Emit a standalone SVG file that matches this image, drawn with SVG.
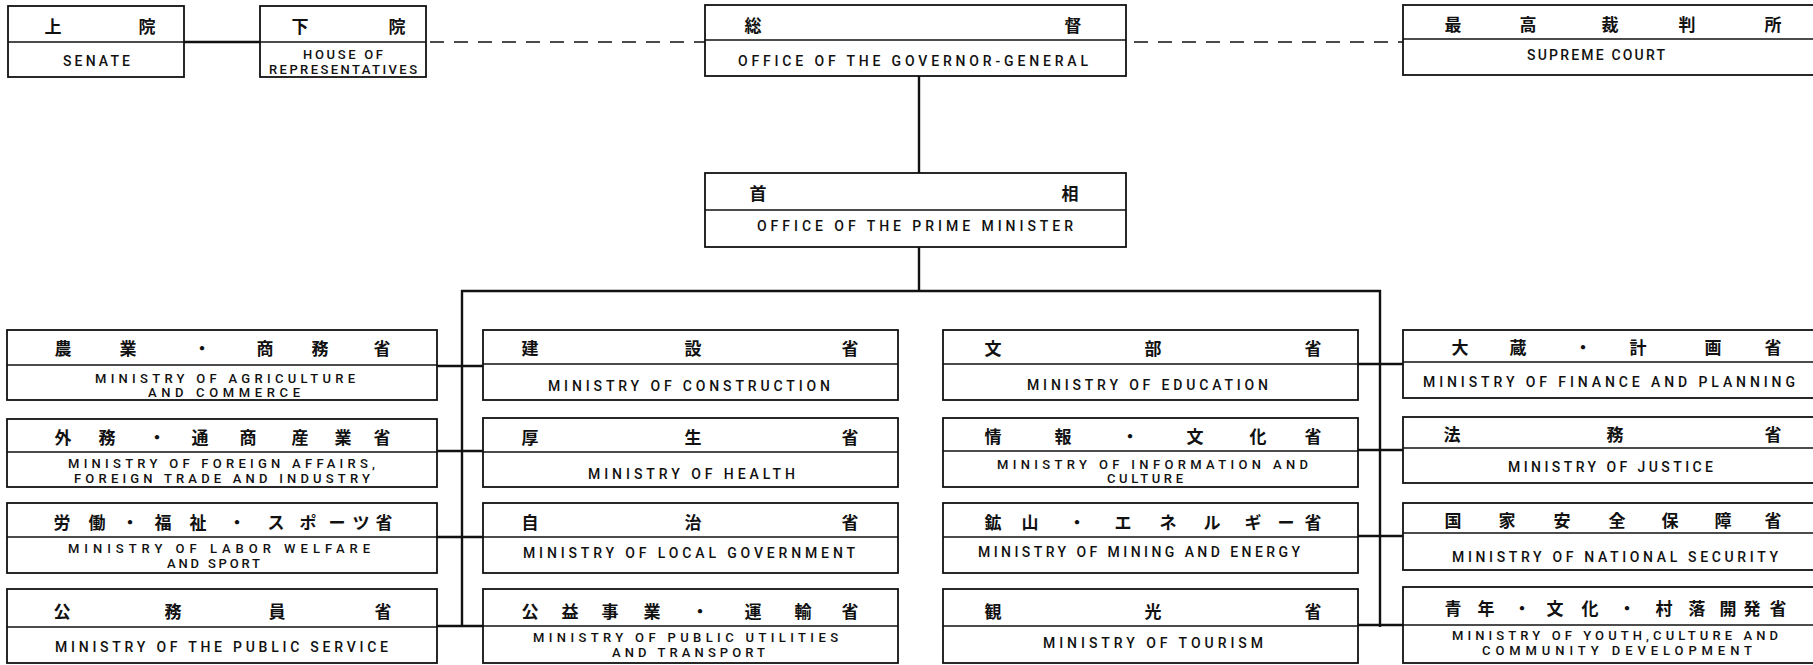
<svg xmlns="http://www.w3.org/2000/svg" width="1813" height="665" viewBox="0 0 1813 665">
<style>
.box{fill:#fff;stroke:#111;stroke-width:1.8}
.dv{stroke:#111;stroke-width:1.5}
.jp{font-family:"Noto Sans CJK JP","Noto Sans CJK SC",sans-serif;font-size:17px;font-weight:700;fill:#111;text-anchor:middle;dominant-baseline:central}
.en{font-family:Roboto,"Liberation Sans",Arial,sans-serif;font-size:14px;font-weight:500;fill:#111}
.sm{font-size:13px}
.cn{stroke:#111;stroke-width:2.4;fill:none}
.dash{stroke:#111;stroke-width:1.6;fill:none;stroke-dasharray:14 10}
</style>
<rect width="1813" height="665" fill="#fff"/>
<g id="connectors">
<line class="cn" x1="184" y1="42" x2="260" y2="42"/>
<line class="dash" x1="430" y1="42" x2="705" y2="42"/>
<line class="dash" x1="1134" y1="42" x2="1403" y2="42"/>
<line class="cn" x1="919" y1="76" x2="919" y2="173"/>
<line class="cn" x1="919" y1="247" x2="919" y2="291"/>
<line class="cn" x1="461" y1="291" x2="1381" y2="291"/>
<line class="cn" x1="462" y1="290" x2="462" y2="627"/>
<line class="cn" x1="1380" y1="290" x2="1380" y2="627"/>
<line class="cn" x1="437" y1="366" x2="483" y2="366"/>
<line class="cn" x1="437" y1="451" x2="483" y2="451"/>
<line class="cn" x1="437" y1="537" x2="483" y2="537"/>
<line class="cn" x1="437" y1="626" x2="483" y2="626"/>
<line class="cn" x1="1358" y1="364" x2="1403" y2="364"/>
<line class="cn" x1="1358" y1="450" x2="1403" y2="450"/>
<line class="cn" x1="1358" y1="536" x2="1403" y2="536"/>
<line class="cn" x1="1358" y1="625" x2="1403" y2="625"/>
</g>
<g id="senate">
<rect class="box" x="8" y="6" width="176" height="71"/>
<line class="dv" x1="8" y1="42" x2="184" y2="42"/>
<text class="jp" x="53" y="25">上</text><text class="jp" x="147" y="25">院</text>
<text class="en" x="63" y="66" textLength="67" lengthAdjust="spacing">SENATE</text>
</g>
<g id="house">
<rect class="box" x="260" y="6" width="166" height="71"/>
<line class="dv" x1="260" y1="42" x2="426" y2="42"/>
<text class="jp" x="300" y="25">下</text><text class="jp" x="397" y="25">院</text>
<text class="en sm" x="303" y="59" textLength="80" lengthAdjust="spacing">HOUSE OF</text>
<text class="en sm" x="269" y="74" textLength="148" lengthAdjust="spacing">REPRESENTATIVES</text>
</g>
<g id="governor">
<rect class="box" x="705" y="5" width="421" height="71"/>
<line class="dv" x1="705" y1="40" x2="1126" y2="40"/>
<text class="jp" x="753" y="24">総</text><text class="jp" x="1073" y="24">督</text>
<text class="en" x="738" y="66" textLength="350" lengthAdjust="spacing">OFFICE OF THE GOVERNOR-GENERAL</text>
</g>
<g id="supreme">
<rect class="box" x="1403" y="5" width="430" height="70"/>
<line class="dv" x1="1403" y1="39" x2="1833" y2="39"/>
<text class="jp" x="1453" y="23">最</text><text class="jp" x="1528" y="23">高</text><text class="jp" x="1610" y="23">裁</text><text class="jp" x="1687" y="23">判</text><text class="jp" x="1773" y="23">所</text>
<text class="en" x="1527" y="60" textLength="138" lengthAdjust="spacing">SUPREME COURT</text>
</g>
<g id="prime">
<rect class="box" x="705" y="173" width="421" height="74"/>
<line class="dv" x1="705" y1="210" x2="1126" y2="210"/>
<text class="jp" x="758" y="192">首</text><text class="jp" x="1070" y="192">相</text>
<text class="en" x="757" y="231" textLength="316" lengthAdjust="spacing">OFFICE OF THE PRIME MINISTER</text>
</g>
<g id="agriculture">
<rect class="box" x="7" y="330" width="430" height="70"/>
<line class="dv" x1="7" y1="365" x2="437" y2="365"/>
<text class="jp" x="63" y="347">農</text><text class="jp" x="128" y="347">業</text><text class="jp" x="202" y="347">・</text><text class="jp" x="265" y="347">商</text><text class="jp" x="320" y="347">務</text><text class="jp" x="382" y="347">省</text>
<text class="en sm" x="95" y="383" textLength="260" lengthAdjust="spacing">MINISTRY OF AGRICULTURE</text>
<text class="en sm" x="148" y="397" textLength="152" lengthAdjust="spacing">AND COMMERCE</text>
</g>
<g id="foreign">
<rect class="box" x="7" y="419" width="430" height="68"/>
<line class="dv" x1="7" y1="452" x2="437" y2="452"/>
<text class="jp" x="63" y="436">外</text><text class="jp" x="107" y="436">務</text><text class="jp" x="157" y="436">・</text><text class="jp" x="200" y="436">通</text><text class="jp" x="248" y="436">商</text><text class="jp" x="300" y="436">産</text><text class="jp" x="343" y="436">業</text><text class="jp" x="382" y="436">省</text>
<text class="en sm" x="68" y="468" textLength="307" lengthAdjust="spacing">MINISTRY OF FOREIGN AFFAIRS,</text>
<text class="en sm" x="74" y="483" textLength="296" lengthAdjust="spacing">FOREIGN TRADE AND INDUSTRY</text>
</g>
<g id="labor">
<rect class="box" x="7" y="503" width="430" height="70"/>
<line class="dv" x1="7" y1="537" x2="437" y2="537"/>
<text class="jp" x="62" y="521">労</text><text class="jp" x="97" y="521">働</text><text class="jp" x="130" y="521">・</text><text class="jp" x="163" y="521">福</text><text class="jp" x="198" y="521">祉</text><text class="jp" x="237" y="521">・</text><text class="jp" x="276" y="521">ス</text><text class="jp" x="308" y="521">ポ</text><text class="jp" x="337" y="521">ー</text><text class="jp" x="361" y="521">ツ</text><text class="jp" x="384" y="521">省</text>
<text class="en sm" x="68" y="553" textLength="302" lengthAdjust="spacing">MINISTRY OF LABOR WELFARE</text>
<text class="en sm" x="167" y="568" textLength="93" lengthAdjust="spacing">AND SPORT</text>
</g>
<g id="publicservice">
<rect class="box" x="7" y="589" width="430" height="74"/>
<line class="dv" x1="7" y1="627" x2="437" y2="627"/>
<text class="jp" x="62" y="610">公</text><text class="jp" x="173" y="610">務</text><text class="jp" x="277" y="610">員</text><text class="jp" x="383" y="610">省</text>
<text class="en" x="55" y="652" textLength="333" lengthAdjust="spacing">MINISTRY OF THE PUBLIC SERVICE</text>
</g>
<g id="construction">
<rect class="box" x="483" y="330" width="415" height="70"/>
<line class="dv" x1="483" y1="364" x2="898" y2="364"/>
<text class="jp" x="530" y="347">建</text><text class="jp" x="693" y="347">設</text><text class="jp" x="850" y="347">省</text>
<text class="en" x="548" y="391" textLength="282" lengthAdjust="spacing">MINISTRY OF CONSTRUCTION</text>
</g>
<g id="health">
<rect class="box" x="483" y="418" width="415" height="69"/>
<line class="dv" x1="483" y1="452" x2="898" y2="452"/>
<text class="jp" x="530" y="436">厚</text><text class="jp" x="693" y="436">生</text><text class="jp" x="850" y="436">省</text>
<text class="en" x="588" y="479" textLength="207" lengthAdjust="spacing">MINISTRY OF HEALTH</text>
</g>
<g id="localgov">
<rect class="box" x="483" y="503" width="415" height="70"/>
<line class="dv" x1="483" y1="537" x2="898" y2="537"/>
<text class="jp" x="530" y="521">自</text><text class="jp" x="693" y="521">治</text><text class="jp" x="850" y="521">省</text>
<text class="en" x="523" y="558" textLength="332" lengthAdjust="spacing">MINISTRY OF LOCAL GOVERNMENT</text>
</g>
<g id="utilities">
<rect class="box" x="483" y="589" width="415" height="74"/>
<line class="dv" x1="483" y1="626" x2="898" y2="626"/>
<text class="jp" x="530" y="610">公</text><text class="jp" x="570" y="610">益</text><text class="jp" x="610" y="610">事</text><text class="jp" x="652" y="610">業</text><text class="jp" x="700" y="610">・</text><text class="jp" x="753" y="610">運</text><text class="jp" x="803" y="610">輸</text><text class="jp" x="850" y="610">省</text>
<text class="en sm" x="533" y="642" textLength="305" lengthAdjust="spacing">MINISTRY OF PUBLIC UTILITIES</text>
<text class="en sm" x="612" y="657" textLength="153" lengthAdjust="spacing">AND TRANSPORT</text>
</g>
<g id="education">
<rect class="box" x="943" y="330" width="415" height="70"/>
<line class="dv" x1="943" y1="364" x2="1358" y2="364"/>
<text class="jp" x="993" y="347">文</text><text class="jp" x="1153" y="347">部</text><text class="jp" x="1313" y="347">省</text>
<text class="en" x="1027" y="390" textLength="241" lengthAdjust="spacing">MINISTRY OF EDUCATION</text>
</g>
<g id="information">
<rect class="box" x="943" y="418" width="415" height="69"/>
<line class="dv" x1="943" y1="451" x2="1358" y2="451"/>
<text class="jp" x="993" y="435">情</text><text class="jp" x="1063" y="435">報</text><text class="jp" x="1130" y="435">・</text><text class="jp" x="1195" y="435">文</text><text class="jp" x="1258" y="435">化</text><text class="jp" x="1313" y="435">省</text>
<text class="en sm" x="997" y="469" textLength="311" lengthAdjust="spacing">MINISTRY OF INFORMATION AND</text>
<text class="en sm" x="1107" y="483" textLength="76" lengthAdjust="spacing">CULTURE</text>
</g>
<g id="mining">
<rect class="box" x="943" y="503" width="415" height="70"/>
<line class="dv" x1="943" y1="537" x2="1358" y2="537"/>
<text class="jp" x="993" y="521">鉱</text><text class="jp" x="1030" y="521">山</text><text class="jp" x="1077" y="521">・</text><text class="jp" x="1123" y="521">エ</text><text class="jp" x="1168" y="521">ネ</text><text class="jp" x="1212" y="521">ル</text><text class="jp" x="1253" y="521">ギ</text><text class="jp" x="1286" y="521">ー</text><text class="jp" x="1313" y="521">省</text>
<text class="en" x="978" y="557" textLength="322" lengthAdjust="spacing">MINISTRY OF MINING AND ENERGY</text>
</g>
<g id="tourism">
<rect class="box" x="943" y="589" width="415" height="74"/>
<line class="dv" x1="943" y1="626" x2="1358" y2="626"/>
<text class="jp" x="993" y="610">観</text><text class="jp" x="1153" y="610">光</text><text class="jp" x="1313" y="610">省</text>
<text class="en" x="1043" y="648" textLength="220" lengthAdjust="spacing">MINISTRY OF TOURISM</text>
</g>
<g id="finance">
<rect class="box" x="1403" y="330" width="430" height="68"/>
<line class="dv" x1="1403" y1="362" x2="1833" y2="362"/>
<text class="jp" x="1460" y="346">大</text><text class="jp" x="1518" y="346">蔵</text><text class="jp" x="1583" y="346">・</text><text class="jp" x="1638" y="346">計</text><text class="jp" x="1713" y="346">画</text><text class="jp" x="1773" y="346">省</text>
<text class="en" x="1423" y="387" textLength="372" lengthAdjust="spacing">MINISTRY OF FINANCE AND PLANNING</text>
</g>
<g id="justice">
<rect class="box" x="1403" y="417" width="430" height="66"/>
<line class="dv" x1="1403" y1="448" x2="1833" y2="448"/>
<text class="jp" x="1452" y="433">法</text><text class="jp" x="1615" y="433">務</text><text class="jp" x="1773" y="433">省</text>
<text class="en" x="1508" y="472" textLength="205" lengthAdjust="spacing">MINISTRY OF JUSTICE</text>
</g>
<g id="security">
<rect class="box" x="1403" y="503" width="430" height="67"/>
<line class="dv" x1="1403" y1="533" x2="1833" y2="533"/>
<text class="jp" x="1453" y="519">国</text><text class="jp" x="1507" y="519">家</text><text class="jp" x="1562" y="519">安</text><text class="jp" x="1617" y="519">全</text><text class="jp" x="1670" y="519">保</text><text class="jp" x="1723" y="519">障</text><text class="jp" x="1773" y="519">省</text>
<text class="en" x="1452" y="562" textLength="326" lengthAdjust="spacing">MINISTRY OF NATIONAL SECURITY</text>
</g>
<g id="youth">
<rect class="box" x="1403" y="587" width="430" height="76"/>
<line class="dv" x1="1403" y1="625" x2="1833" y2="625"/>
<text class="jp" x="1453" y="607">青</text><text class="jp" x="1486" y="607">年</text><text class="jp" x="1522" y="607">・</text><text class="jp" x="1555" y="607">文</text><text class="jp" x="1590" y="607">化</text><text class="jp" x="1627" y="607">・</text><text class="jp" x="1664" y="607">村</text><text class="jp" x="1697" y="607">落</text><text class="jp" x="1728" y="607">開</text><text class="jp" x="1752" y="607">発</text><text class="jp" x="1778" y="607">省</text>
<text class="en sm" x="1452" y="640" textLength="326" lengthAdjust="spacing">MINISTRY OF YOUTH,CULTURE AND</text>
<text class="en sm" x="1482" y="655" textLength="270" lengthAdjust="spacing">COMMUNITY DEVELOPMENT</text>
</g>
</svg>
